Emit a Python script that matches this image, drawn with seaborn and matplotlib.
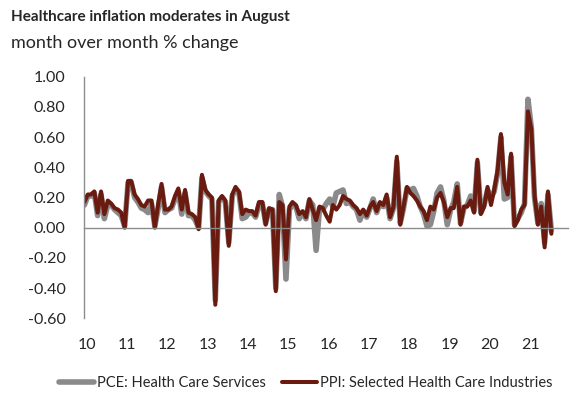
import pandas as pd
import matplotlib.pyplot as plt
import matplotlib.dates as mdates
import seaborn as sns

sns.set_style("white")
plt.rcParams["font.family"] = ["Lato", "DejaVu Sans"]

# month over month % change, Jan 2010 - Aug 2021
ppi_health = [
    0.17, 0.22, 0.22, 0.24, 0.10, 0.24, 0.09, 0.18, 0.16, 0.13, 0.12, 0.10,
    0.00, 0.31, 0.31, 0.22, 0.19, 0.15, 0.14, 0.18, 0.18, 0.00, 0.16, 0.29,
    0.12, 0.12, 0.14, 0.21, 0.26, 0.12, 0.25, 0.10, 0.09, 0.07, -0.01, 0.35,
    0.25, 0.22, 0.20, -0.51, 0.18, 0.21, 0.18, -0.12, 0.22, 0.27, 0.24, 0.09,
    0.12, 0.11, 0.11, 0.08, 0.17, 0.17, 0.02, 0.13, 0.12, -0.42, 0.17, 0.15,
    -0.21, 0.14, 0.17, 0.15, 0.09, 0.11, 0.07, 0.19, 0.12, 0.05, 0.14, 0.13,
    0.08, 0.04, 0.15, 0.12, 0.15, 0.21, 0.19, 0.18, 0.15, 0.13, 0.09, 0.12,
    0.08, 0.14, 0.17, 0.11, 0.17, 0.15, 0.22, 0.07, 0.14, 0.47, 0.02, 0.14,
    0.27, 0.23, 0.21, 0.18, 0.14, 0.11, 0.05, 0.14, 0.12, 0.20, 0.23, 0.17,
    0.07, 0.13, 0.13, 0.27, 0.02, 0.14, 0.14, 0.18, 0.10, 0.45, 0.09, 0.14,
    0.27, 0.15, 0.25, 0.38, 0.62, 0.30, 0.22, 0.49, 0.01, 0.05, 0.12, 0.15,
    0.77, 0.65, 0.22, 0.02, 0.14, -0.13, 0.24, -0.04,
]
pce_health = [
    0.15, 0.21, 0.21, 0.23, 0.08, 0.22, 0.06, 0.15, 0.15, 0.12, 0.10, 0.08,
    0.01, 0.30, 0.30, 0.20, 0.17, 0.13, 0.12, 0.10, 0.16, 0.01, 0.13, 0.27,
    0.10, 0.12, 0.13, 0.19, 0.24, 0.09, 0.23, 0.08, 0.08, 0.05, 0.00, 0.33,
    0.24, 0.21, 0.19, -0.48, 0.17, 0.20, 0.17, -0.10, 0.21, 0.25, 0.23, 0.06,
    0.07, 0.10, 0.10, 0.07, 0.15, 0.16, 0.03, 0.12, 0.12, -0.40, 0.22, 0.14,
    -0.34, 0.12, 0.15, 0.14, 0.06, 0.10, 0.06, 0.18, 0.15, -0.15, 0.13, 0.12,
    0.16, 0.19, 0.14, 0.23, 0.24, 0.25, 0.16, 0.17, 0.14, 0.12, 0.05, 0.11,
    0.07, 0.13, 0.19, 0.10, 0.16, 0.14, 0.20, 0.06, 0.13, 0.44, 0.03, 0.13,
    0.26, 0.25, 0.26, 0.21, 0.14, 0.09, 0.01, 0.02, 0.11, 0.23, 0.27, 0.18,
    0.02, 0.12, 0.17, 0.29, 0.03, 0.13, 0.15, 0.21, 0.11, 0.43, 0.10, 0.15,
    0.25, 0.20, 0.24, 0.36, 0.60, 0.19, 0.20, 0.47, 0.02, 0.06, 0.10, 0.16,
    0.85, 0.66, 0.20, 0.03, 0.16, -0.10, 0.22, -0.02,
]
year_labels = ["10", "11", "12", "13", "14", "15", "16", "17", "18", "19", "20", "21"]
y_ticks = [-0.6, -0.4, -0.2, 0.0, 0.2, 0.4, 0.6, 0.8, 1.0]

months = pd.date_range("2010-01-01", periods=len(ppi_health), freq="MS")
df = pd.DataFrame({"month": months, "PCE": pce_health, "PPI": ppi_health})

grey = "#8a8a8a"
maroon = "#6b1a0f"
axis_grey = "#8c8c8c"

fig = plt.figure(figsize=(5.74, 3.95), dpi=100)
ax = fig.add_axes([0.147, 0.194, 0.843, 0.612])

sns.lineplot(data=df, x="month", y="PCE", ax=ax, color=grey, lw=4.0,
             label="PCE: Health Care Services")
sns.lineplot(data=df, x="month", y="PPI", ax=ax, color=maroon, lw=2.9,
             label="PPI: Selected Health Care Industries")

# y axis
ax.set_ylim(-0.6, 1.0)
ax.set_yticks(y_ticks)
ax.set_yticklabels([f"{v:.2f}" for v in y_ticks])
ax.tick_params(axis="y", direction="out", length=3.5, width=1, color=axis_grey,
               labelsize=11.5, pad=10)

# x axis sits on the zero line, labels at the bottom
years = pd.date_range("2010-01-01", "2022-01-01", freq="YS")
ax.set_xlim(years[0], years[-1])
ax.set_xticks(years)
ax.tick_params(axis="x", direction="out", length=4, width=1, color=axis_grey,
               labelbottom=False)
ax.spines["bottom"].set_position(("data", 0))
for side in ["left", "bottom"]:
    ax.spines[side].set_color(axis_grey)
    ax.spines[side].set_linewidth(1)
ax.spines["top"].set_visible(False)
ax.spines["right"].set_visible(False)
ax.set_xlabel("")
ax.set_ylabel("")

label_pos = mdates.date2num(years[:-1] + pd.Timedelta(days=22))
sec = ax.secondary_xaxis("bottom")
sec.set_xticks(label_pos)
sec.set_xticklabels(year_labels)
sec.tick_params(length=0, labelsize=11.5, pad=14)
sec.spines["bottom"].set_visible(False)

# legend
ax.get_legend().remove()
handles, labels = ax.get_legend_handles_labels()
fig.legend(handles, labels, loc="center", bbox_to_anchor=(0.533, 0.031), ncol=2,
           frameon=False, fontsize=10.5, handlelength=2.4, handletextpad=0.2,
           columnspacing=1.1)

fig.text(0.02, 0.958, "Healthcare inflation moderates in August", fontsize=11,
         fontweight="bold", va="center", ha="left")
fig.text(0.02, 0.89, "month over month % change", fontsize=13, va="center", ha="left")

plt.savefig("out.png", dpi=100)
